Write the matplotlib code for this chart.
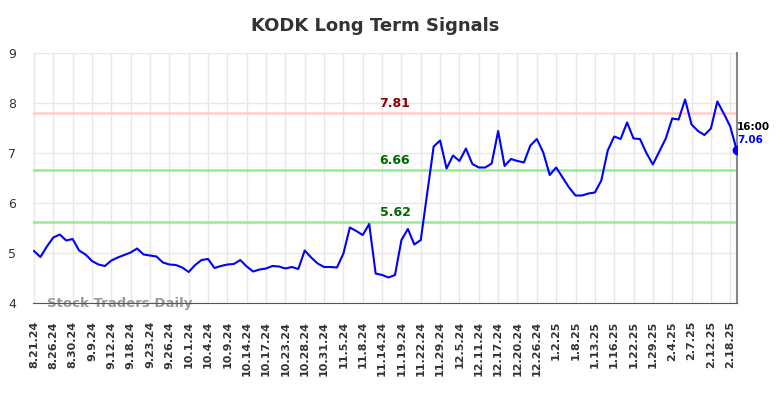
import matplotlib
matplotlib.use("Agg")
from matplotlib import pyplot as plt
import numpy as np

# closing prices, one per point
prices = [5.04, 4.92, 5.13, 5.31, 5.37, 5.25, 5.28, 5.05, 4.97, 4.84,
          4.77, 4.74, 4.85, 4.91, 4.96, 5.01, 5.09, 4.97, 4.95, 4.93,
          4.81, 4.77, 4.76, 4.71, 4.62, 4.76, 4.86, 4.88, 4.70, 4.74,
          4.77, 4.78, 4.86, 4.73, 4.63, 4.67, 4.69, 4.74, 4.73, 4.69,
          4.72, 4.68, 5.05, 4.91, 4.79, 4.72, 4.72, 4.71, 4.99, 5.51,
          5.44, 5.36, 5.58, 4.59, 4.56, 4.51, 4.56, 5.26, 5.48, 5.17,
          5.26, 6.20, 7.13, 7.25, 6.69, 6.95, 6.84, 7.09, 6.78, 6.71,
          6.71, 6.79, 7.44, 6.74, 6.88, 6.84, 6.81, 7.15, 7.28, 7.01,
          6.56, 6.71, 6.51, 6.31, 6.15, 6.15, 6.19, 6.21, 6.45, 7.05,
          7.33, 7.28, 7.61, 7.29, 7.28, 7.00, 6.77, 7.03, 7.29, 7.69,
          7.67, 8.07, 7.57, 7.44, 7.36, 7.49, 8.03, 7.79, 7.53, 7.06]

tick_labels = ['8.21.24', '8.26.24', '8.30.24', '9.9.24', '9.12.24', '9.18.24',
               '9.23.24', '9.26.24', '10.1.24', '10.4.24', '10.9.24', '10.14.24',
               '10.17.24', '10.23.24', '10.28.24', '10.31.24', '11.5.24', '11.8.24',
               '11.14.24', '11.19.24', '11.22.24', '11.29.24', '12.5.24', '12.11.24',
               '12.17.24', '12.20.24', '12.26.24', '1.2.25', '1.8.25', '1.13.25',
               '1.16.25', '1.22.25', '1.29.25', '2.4.25', '2.7.25', '2.12.25', '2.18.25']

resistance = 7.81
supports = [6.66, 5.62]
last_time = '16:00'

x = np.arange(len(prices))
tick_pos = np.arange(len(tick_labels)) * 3

fig = plt.figure(figsize=(7.84, 3.98), dpi=100)
ax = fig.add_axes([33/784, 1 - 303/398, (737 - 33)/784, (303 - 53)/398])

ax.set_xlim(-0.15, 109.05)
ax.set_ylim(4, 9)
ax.set_yticks(range(4, 10))
ax.set_xticks(tick_pos)
ax.set_xticklabels(tick_labels, rotation=90, fontsize=8, fontweight='bold', color='#333333')
ax.tick_params(axis='y', labelsize=9, colors='#333333', length=0, pad=12)
ax.tick_params(axis='x', length=0, pad=13)
ax.grid(True, color='#e8e8e8', linewidth=1)
ax.set_axisbelow(True)

for s in ['top', 'left']:
    ax.spines[s].set_visible(False)
ax.spines['bottom'].set_color('#555555')
ax.spines['right'].set_color('#888888')
ax.spines['right'].set_linewidth(1.5)

# signal levels
ax.axhline(resistance, color='#ffcccc', linewidth=1.8, zorder=1)
ax.text(56, resistance + 0.06, f'{resistance:.2f}', color='#8b0000', fontsize=9,
        fontweight='bold', ha='center', va='bottom')
for lv in supports:
    ax.axhline(lv, color='#90ee90', linewidth=1.8, zorder=1)
    ax.text(56, lv + 0.06, f'{lv:.2f}', color='#006400', fontsize=9,
            fontweight='bold', ha='center', va='bottom')

ax.plot(x, prices, color='#0000ff', linewidth=1.5, zorder=3)
ax.plot(x[-1], prices[-1], 'o', color='#0000ff', markersize=6, zorder=4)
ax.text(x[-1] + 0.05, prices[-1] + 0.45, last_time, fontsize=7.5, fontweight='bold',
        color='black', ha='left', va='center')
ax.text(x[-1] + 0.05, prices[-1] + 0.2, f'{prices[-1]:.2f}', fontsize=7.5, fontweight='bold',
        color='#0000ff', ha='left', va='center')

ax.text(2, 4.0, 'Stock Traders Daily', fontsize=9.5, fontweight='bold',
        color='#999999', ha='left', va='center', zorder=2)

fig.text(375/784, 1 - 26/398, 'KODK Long Term Signals', fontsize=13, fontweight='bold',
         color='#333333', ha='center', va='center')

fig.savefig('out.png', dpi=100)
